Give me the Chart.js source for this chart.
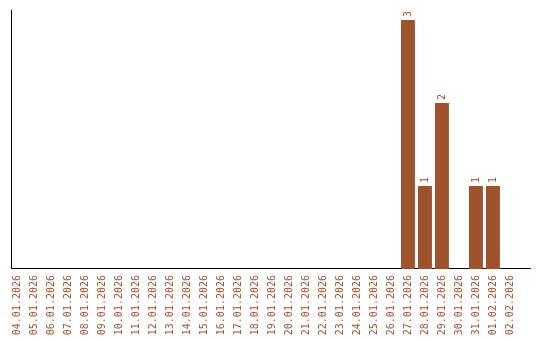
<!DOCTYPE html>
<html>
<head>
<meta charset="utf-8">
<script src="https://cdn.jsdelivr.net/npm/chart.js@4.4.1/dist/chart.umd.min.js"></script>
<style>
  html, body { margin: 0; padding: 0; background: #fff; }
  #wrap { width: 540px; height: 340px; }
</style>
</head>
<body>
<div id="wrap"><canvas id="chart"></canvas></div>
<script>
const categories = [
    "04.01.2026", "05.01.2026", "06.01.2026", "07.01.2026", "08.01.2026",
    "09.01.2026", "10.01.2026", "11.01.2026", "12.01.2026", "13.01.2026",
    "14.01.2026", "15.01.2026", "16.01.2026", "17.01.2026", "18.01.2026",
    "19.01.2026", "20.01.2026", "21.01.2026", "22.01.2026", "23.01.2026",
    "24.01.2026", "25.01.2026", "26.01.2026", "27.01.2026", "28.01.2026",
    "29.01.2026", "30.01.2026", "31.01.2026", "01.02.2026", "02.02.2026"
];
const counts = [
    0, 0, 0, 0, 0,
    0, 0, 0, 0, 0,
    0, 0, 0, 0, 0,
    0, 0, 0, 0, 0,
    0, 0, 0, 3, 1,
    2, 0, 1, 1, 0
];

const barColor = "#A0522D";
const monoFont = "'DejaVu Sans Mono', 'Liberation Mono', monospace";

// value labels written sideways above each bar
const valueLabels = {
    id: "valueLabels",
    afterDatasetsDraw(chart) {
        const ctx = chart.ctx;
        const meta = chart.getDatasetMeta(0);
        ctx.save();
        ctx.fillStyle = barColor;
        ctx.font = "10px " + monoFont;
        ctx.textAlign = "left";
        ctx.textBaseline = "middle";
        meta.data.forEach((bar, i) => {
            if (!counts[i]) return;
            ctx.save();
            ctx.translate(bar.x, bar.y - 3);
            ctx.rotate(-Math.PI / 2);
            ctx.fillText(String(counts[i]), 0, 0);
            ctx.restore();
        });
        ctx.restore();
    }
};

new Chart(document.getElementById("chart"), {
    type: "bar",
    data: {
        datasets: [{
            data: counts.map((v, i) => ({ x: i, y: v })),
            backgroundColor: barColor,
            borderWidth: 0,
            barPercentage: 0.82,
            categoryPercentage: 1
        }]
    },
    options: {
        responsive: true,
        maintainAspectRatio: false,
        animation: false,
        layout: { padding: { left: 11, right: 10, top: 10, bottom: -1.2 } },
        plugins: {
            legend: { display: false },
            tooltip: { enabled: false }
        },
        scales: {
            x: {
                type: "linear",
                offset: false,
                min: -0.353,
                max: 30.18,
                afterBuildTicks: (scale) => {
                    scale.ticks = categories.map((c, i) => ({ value: i }));
                },
                grid: { display: false, drawTicks: false, offset: false },
                border: { display: true, color: "#000", width: 1 },
                ticks: {
                    autoSkip: false,
                    minRotation: 90,
                    maxRotation: 90,
                    padding: 6,
                    color: barColor,
                    font: { family: monoFont, size: 10 },
                    callback: (v) => categories[v]
                }
            },
            y: {
                min: 0,
                max: 3.12,
                grid: { display: false, drawTicks: false },
                border: { display: true, color: "#000", width: 1 },
                ticks: { display: false }
            }
        }
    },
    plugins: [valueLabels]
});
</script>
</body>
</html>
